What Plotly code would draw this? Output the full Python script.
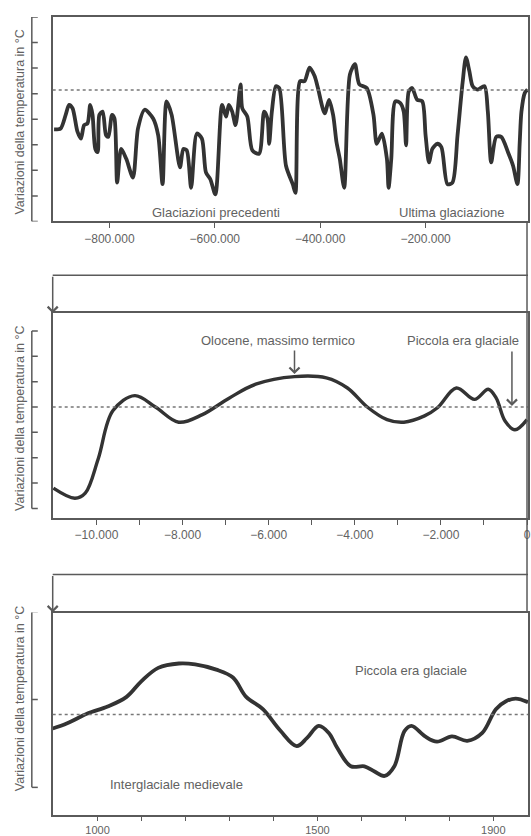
import plotly.graph_objects as go

# ---------------- data ----------------
# Panel 1: last ~900,000 years
P1_YEARS = [-905000, -892500, -883000, -876600, -870000, -860600, -854000, -848000, -841500, -836400,
            -832000, -826800, -822300, -819000, -812800, -806400, -802000, -795000, -790400, -785300,
            -777700, -768000, -755300, -745700, -733000, -717000, -707400, -699100, -691500, -681900,
            -666000, -659600, -653200, -644900, -634000, -624500, -616800, -608500, -598900, -586200,
            -578500, -573400, -567000, -560600, -551100, -547900, -538300, -528700, -516000, -506400,
            -500000, -496800, -491700, -484000, -477700, -464900, -452100, -447000, -438100, -429800,
            -420200, -410600, -404300, -391500, -383200, -375500, -369100, -362800, -354500, -343600,
            -334000, -325700, -311700, -298900, -292600, -283000, -273400, -270200, -265100, -257400,
            -247900, -241500, -237000, -231900, -225500, -216000, -206400, -200000, -193600, -187200,
            -177700, -170000, -158500, -149000, -139400, -129800, -123400, -117000, -110600, -101100,
            -88300, -81900, -75500, -66000, -56400, -43600, -34000, -25700, -21300, -18100,
            -11700, -6600]
P1_TEMP = [3.60, 3.64, 4.17, 4.56, 4.43, 3.51, 3.24, 3.77, 3.84, 4.56,
           4.17, 2.84, 2.71, 4.17, 4.30, 3.37, 3.31, 4.17, 4.03, 1.52,
           2.84, 2.45, 1.72, 3.64, 4.37, 4.03, 3.37, 1.46, 4.70, 4.17,
           2.12, 2.84, 2.78, 1.32, 3.44, 3.24, 1.92, 1.65, 1.06, 4.56,
           4.10, 4.56, 4.30, 3.77, 5.36, 4.43, 4.10, 2.78, 2.65, 4.30,
           4.03, 3.04, 4.30, 5.29, 5.22, 2.18, 1.46, 1.12, 5.49, 5.49,
           6.02, 5.69, 5.22, 4.23, 4.76, 4.17, 3.11, 2.45, 1.32, 5.75,
           6.15, 5.36, 5.22, 4.17, 3.04, 3.44, 2.45, 1.32, 2.45, 4.70,
           4.63, 4.30, 2.98, 5.09, 5.22, 4.76, 4.70, 3.37, 2.31, 2.84,
           3.04, 2.91, 1.46, 1.52, 3.37, 5.42, 6.42, 5.89, 5.29, 5.16,
           5.29, 4.30, 2.31, 3.31, 3.31, 2.71, 2.18, 1.46, 3.11, 4.30,
           5.03, 5.16]
P1_BASELINE = 5.14
P1_BRACKET = [0, 1, 2, 3, 4, 5, 6, 7, 8]
P1_TICKVALS = [-800000, -600000, -400000, -200000]
P1_TICKTEXT = ["\u2212800.000", "\u2212600.000", "\u2212400.000", "\u2212200.000"]
P1_RANGE = [-907600, -5650]

# Panel 2: last 11,000 years
P2_YEARS = [-11000, -10500, -10260, -9960, -9620, -9110, -8630, -8090, -7540, -6920,
            -6300, -5400, -4660, -4170, -3710, -3250, -2860, -2380, -2080, -1640,
            -1220, -900, -715, -510, -280, 0]
P2_TEMP = [-3.2, -3.6, -3.4, -2.05, -0.15, 0.45, 0.0, -0.6, -0.3, 0.35,
           0.9, 1.2, 1.15, 0.75, 0.0, -0.5, -0.6, -0.35, -0.03, 0.75,
           0.3, 0.7, 0.35, -0.55, -0.9, -0.5]
P2_BASELINE = 0.0
P2_BRACKET = [-4, -3, -2, -1, 0, 1, 2, 3]
P2_TICKVALS = [-10000, -9000, -8000, -7000, -6000, -5000, -4000, -3000, -2000, -1000, 0]
P2_TICKTEXT = ["\u221210.000", "", "\u22128.000", "", "\u22126.000", "", "\u22124.000", "",
               "\u22122.000", "", "0"]
P2_RANGE = [-11016, 23]

# Panel 3: years 900-1980
P3_YEARS = [898, 931, 977, 1023, 1066, 1100, 1138, 1185, 1222, 1270,
            1308, 1338, 1376, 1415, 1453, 1476, 1503, 1526, 1545, 1576,
            1607, 1630, 1653, 1675, 1698, 1714, 1745, 1772, 1806, 1841,
            1875, 1906, 1929, 1951, 1979]
P3_TEMP = [-0.33, -0.27, -0.16, -0.08, 0.03, 0.21, 0.36, 0.41, 0.40, 0.34,
           0.25, 0.03, -0.11, -0.35, -0.53, -0.44, -0.30, -0.38, -0.55, -0.76,
           -0.76, -0.82, -0.87, -0.76, -0.36, -0.30, -0.42, -0.48, -0.42, -0.47,
           -0.38, -0.11, -0.02, 0.01, -0.03]
P3_BASELINE = -0.17
P3_BRACKET = [-1, 0, 1]
P3_TICKVALS = [1000, 1100, 1200, 1300, 1400, 1500, 1600, 1700, 1800, 1900]
P3_TICKTEXT = ["1000", "", "", "", "", "1500", "", "", "", "1900"]
P3_RANGE = [898, 1979]

Y_TITLE = "Variazioni della temperatura in °C"

# ---------------- layout helpers ----------------
W, H = 531, 836
def fx(px):
    return px / W
def fy(py):
    return 1 - py / H

LINE_C = "#5a5a5a"
TEXT_C = "#626262"
CURVE_C = "#333333"
FONT = "Liberation Sans, Arial, sans-serif"

panels = [
    dict(x=P1_YEARS, y=P1_TEMP, base=P1_BASELINE, br=P1_BRACKET, tv=P1_TICKVALS, tt=P1_TICKTEXT,
         xr=P1_RANGE, yr=[0, 8], top=17, bot=222, lw=3.8, sm=0.75),
    dict(x=P2_YEARS, y=P2_TEMP, base=P2_BASELINE, br=P2_BRACKET, tv=P2_TICKVALS, tt=P2_TICKTEXT,
         xr=P2_RANGE, yr=[-4.37, 3.7], top=314, bot=519, lw=3.4, sm=1.0),
    dict(x=P3_YEARS, y=P3_TEMP, base=P3_BASELINE, br=P3_BRACKET, tv=P3_TICKVALS, tt=P3_TICKTEXT,
         xr=P3_RANGE, yr=[-1.315, 0.99], top=614, bot=817, lw=3.8, sm=1.0),
]

fig = go.Figure()
layout = dict(width=W, height=H, margin=dict(l=0, r=0, t=0, b=0),
              paper_bgcolor="white", plot_bgcolor="white", showlegend=False,
              font=dict(family=FONT, color=TEXT_C))
shapes = []
annotations = []
X_LEFT = 53

for i, p in enumerate(panels, start=1):
    sfx = "" if i == 1 else str(i)
    xa, ya = "x" + sfx, "y" + sfx
    fig.add_trace(go.Scatter(x=p["x"], y=p["y"], xaxis=xa, yaxis=ya, mode="lines",
                             line=dict(color=CURVE_C, width=p["lw"], shape="spline",
                                       smoothing=p["sm"]),
                             hoverinfo="skip"))
    layout["xaxis" + sfx] = dict(domain=[fx(X_LEFT), 1], range=p["xr"], anchor=ya,
                                 showline=True, linecolor=LINE_C, linewidth=1.5, mirror=True,
                                 ticks="outside", ticklen=5, tickwidth=1.3, tickcolor=LINE_C,
                                 tickvals=p["tv"], ticktext=p["tt"],
                                 tickfont=dict(size=12, color=TEXT_C, family=FONT),
                                 ticklabeloverflow="allow",
                                 showgrid=False, zeroline=False, fixedrange=True)
    layout["yaxis" + sfx] = dict(domain=[fy(p["bot"]), fy(p["top"])], range=p["yr"], anchor=xa,
                                 showline=True, linecolor=LINE_C, linewidth=1.5, mirror=True,
                                 showticklabels=False, ticks="", showgrid=False, zeroline=False,
                                 fixedrange=True)
    # dotted reference line
    shapes.append(dict(type="line", xref=xa + " domain", x0=0, x1=1, yref=ya,
                       y0=p["base"], y1=p["base"],
                       line=dict(color="#777777", width=1.5, dash="dot")))
    # bracket scale at left
    shapes.append(dict(type="line", xref="paper", x0=fx(32), x1=fx(32), yref=ya,
                       y0=min(p["br"]), y1=max(p["br"]), line=dict(color=LINE_C, width=1.5)))
    for t in p["br"]:
        shapes.append(dict(type="line", xref="paper", x0=fx(32), x1=fx(38), yref=ya,
                           y0=t, y1=t, line=dict(color=LINE_C, width=1.5)))

# panel 3 tick labels tighter so they stay inside the page
layout["xaxis3"]["ticklen"] = 4
layout["xaxis3"]["tickfont"]["size"] = 11

# y titles
for yc in (122, 419, 700):
    annotations.append(dict(text=Y_TITLE, xref="paper", yref="paper", x=fx(20), y=fy(yc),
                            textangle=-90, showarrow=False, xanchor="center", yanchor="middle",
                            font=dict(size=12.5, color=TEXT_C, family=FONT)))

# connection boxes between panels
for top_y, panel_top in ((276, 314), (576, 614)):
    shapes.append(dict(type="line", xref="paper", yref="paper", x0=fx(X_LEFT), x1=1,
                       y0=fy(top_y), y1=fy(top_y), line=dict(color=LINE_C, width=1.5)))
    annotations.append(dict(text="", xref="paper", yref="paper", x=fx(X_LEFT), y=fy(panel_top),
                            ax=0, ay=-(panel_top - top_y), axref="pixel", ayref="pixel",
                            showarrow=True, arrowhead=4, arrowsize=1.3, arrowwidth=1.5,
                            arrowcolor=LINE_C))
shapes.append(dict(type="line", xref="paper", yref="paper", x0=fx(530), x1=fx(530),
                   y0=fy(614), y1=fy(222), line=dict(color=LINE_C, width=1.5)))

# text labels
def label(text, xc, yc):
    annotations.append(dict(text=text, xref="paper", yref="paper", x=fx(xc), y=fy(yc),
                            showarrow=False, xanchor="center", yanchor="middle",
                            font=dict(size=13, color=TEXT_C, family=FONT)))

label("Glaciazioni precedenti", 217, 213)
label("Ultima glaciazione", 455, 213)
label("Olocene, massimo termico", 280, 341)
label("Piccola era glaciale", 466, 341)
label("Piccola era glaciale", 413, 672)
label("Interglaciale medievale", 177, 786)

# pointing arrows in panel 2
annotations.append(dict(text="", xref="x2", yref="y2", x=-5400, y=1.3, ax=0, ay=-25,
                        showarrow=True, arrowhead=4, arrowsize=1.3, arrowwidth=1.5,
                        arrowcolor=LINE_C))
annotations.append(dict(text="", xref="x2", yref="y2", x=-350, y=0.04, ax=0, ay=-56,
                        showarrow=True, arrowhead=4, arrowsize=1.3, arrowwidth=1.5,
                        arrowcolor=LINE_C))

layout["shapes"] = shapes
layout["annotations"] = annotations
fig.update_layout(**layout)
fig.write_html("out.html", config={"displayModeBar": False},
               post_script="document.body.style.margin='0';document.body.style.overflow='hidden';")
